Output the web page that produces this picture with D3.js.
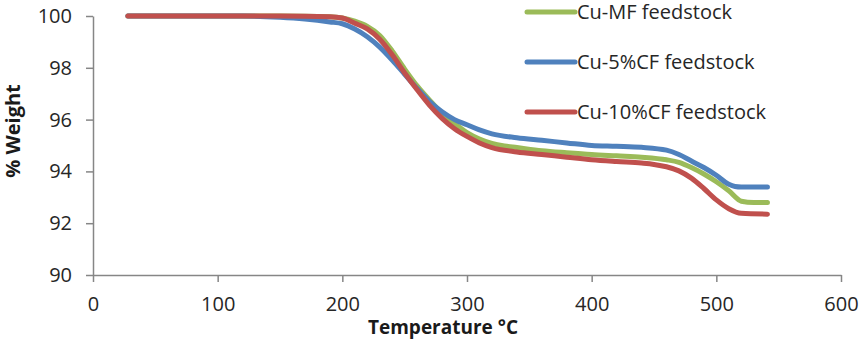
<!DOCTYPE html>
<html>
<head>
<meta charset="utf-8">
<script src="https://cdn.jsdelivr.net/npm/d3@7"></script>
<style>
  html, body { margin: 0; padding: 0; background: #fff; }
  svg { display: block; font-family: "Open Sans", sans-serif; }
</style>
</head>
<body>
<div id="chart"></div>
<script>
// ------- Data -------
const seriesNames = ["Cu-MF feedstock", "Cu-5%CF feedstock", "Cu-10%CF feedstock"];
const seriesColors = ["#9bbb59", "#4f81bd", "#c0504d"];

const tempMF = [28, 100, 150, 190, 200, 210, 220, 230, 240, 250, 260, 270, 280, 290, 300, 310, 320, 330, 340, 360, 380, 400, 420, 440, 460, 470, 480, 490, 500, 510, 520, 530, 541];
const weightMF = [100, 100, 100, 99.97, 99.92, 99.8, 99.6, 99.25, 98.65, 97.95, 97.3, 96.75, 96.25, 95.85, 95.5, 95.25, 95.08, 94.98, 94.92, 94.8, 94.72, 94.65, 94.6, 94.55, 94.45, 94.35, 94.15, 93.9, 93.6, 93.25, 92.85, 92.8, 92.8];

const temp5CF = [28, 120, 150, 170, 190, 200, 210, 220, 230, 240, 250, 260, 270, 280, 290, 300, 310, 320, 340, 360, 380, 400, 420, 440, 460, 470, 480, 490, 500, 510, 515, 520, 541];
const weight5CF = [100, 100, 99.95, 99.88, 99.77, 99.7, 99.5, 99.2, 98.8, 98.3, 97.75, 97.2, 96.7, 96.3, 96.0, 95.8, 95.6, 95.45, 95.3, 95.2, 95.1, 95.0, 94.97, 94.93, 94.82, 94.65, 94.4, 94.15, 93.85, 93.5, 93.42, 93.4, 93.4];

const temp10CF = [28, 100, 150, 190, 200, 210, 220, 230, 240, 250, 260, 270, 280, 290, 300, 310, 320, 340, 360, 380, 400, 420, 440, 450, 460, 470, 480, 490, 500, 510, 520, 541];
const weight10CF = [100, 100, 100, 99.97, 99.92, 99.72, 99.5, 99.1, 98.5, 97.8, 97.15, 96.55, 96.05, 95.65, 95.35, 95.1, 94.92, 94.75, 94.65, 94.55, 94.45, 94.38, 94.32, 94.27, 94.18, 94.02, 93.74, 93.34, 92.9, 92.56, 92.38, 92.35];

const xTicks = [0, 100, 200, 300, 400, 500, 600];
const yTicks = [90, 92, 94, 96, 98, 100];

// ------- Layout -------
const width = 862;
const height = 342;
const margin = { top: 16, right: 21, bottom: 67, left: 93 };
const innerWidth = width - margin.left - margin.right;
const innerHeight = height - margin.top - margin.bottom;
const axisColor = "#868686";

const svg = d3.select("#chart")
  .append("svg")
  .attr("width", width)
  .attr("height", height);

const g = svg.append("g")
  .attr("transform", `translate(${margin.left},${margin.top})`);

const x = d3.scaleLinear().domain([0, 600]).range([0, innerWidth]);
const y = d3.scaleLinear().domain([90, 100]).range([innerHeight, 0]);

// ------- Axes -------
const xAxisG = g.append("g")
  .attr("transform", `translate(0,${innerHeight})`)
  .call(d3.axisBottom(x).tickValues(xTicks).tickSize(7).tickSizeOuter(0).tickPadding(15));

const yAxisG = g.append("g")
  .call(d3.axisLeft(y).tickValues(yTicks).tickSize(7).tickSizeOuter(0).tickPadding(14));

[xAxisG, yAxisG].forEach((ax) => {
  ax.select(".domain").attr("stroke", axisColor).attr("stroke-width", 1.5);
  ax.selectAll(".tick line").attr("stroke", axisColor).attr("stroke-width", 1.5);
  ax.selectAll(".tick text")
    .attr("fill", "#262626")
    .style("font-size", "20px")
    .style("font-family", "'Open Sans', sans-serif");
});

// axis titles
svg.append("text")
  .attr("x", 443)
  .attr("y", 334)
  .attr("text-anchor", "middle")
  .attr("fill", "#1a1a1a")
  .style("font-size", "19px")
  .style("font-weight", "bold")
  .text("Temperature °C");

svg.append("text")
  .attr("transform", "translate(20,131) rotate(-90)")
  .attr("text-anchor", "middle")
  .attr("fill", "#1a1a1a")
  .style("font-size", "20px")
  .style("font-weight", "bold")
  .text("% Weight");

// ------- Lines -------
const series = [
  { name: seriesNames[0], color: seriesColors[0], values: tempMF.map((t, i) => ({ t, w: weightMF[i] })) },
  { name: seriesNames[1], color: seriesColors[1], values: temp5CF.map((t, i) => ({ t, w: weight5CF[i] })) },
  { name: seriesNames[2], color: seriesColors[2], values: temp10CF.map((t, i) => ({ t, w: weight10CF[i] })) },
];

const line = d3.line()
  .x((d) => x(d.t))
  .y((d) => y(d.w))
  .curve(d3.curveMonotoneX);

// draw green first, then blue, red on top
g.selectAll("path.series")
  .data(series)
  .join("path")
  .attr("class", "series")
  .attr("fill", "none")
  .attr("stroke", (d) => d.color)
  .attr("stroke-width", 5)
  .attr("stroke-linecap", "round")
  .attr("stroke-linejoin", "round")
  .attr("d", (d) => line(d.values));

// ------- Legend -------
const legend = svg.append("g").attr("transform", "translate(527,12)");
const items = legend.selectAll("g.item")
  .data(series)
  .join("g")
  .attr("class", "item")
  .attr("transform", (d, i) => `translate(0,${i * 50})`);

items.append("line")
  .attr("x1", 0)
  .attr("x2", 48)
  .attr("stroke", (d) => d.color)
  .attr("stroke-width", 5)
  .attr("stroke-linecap", "round");

items.append("text")
  .attr("x", 50)
  .attr("y", 7)
  .attr("fill", "#262626")
  .style("font-size", "20px")
  .text((d) => d.name);
</script>
</body>
</html>
